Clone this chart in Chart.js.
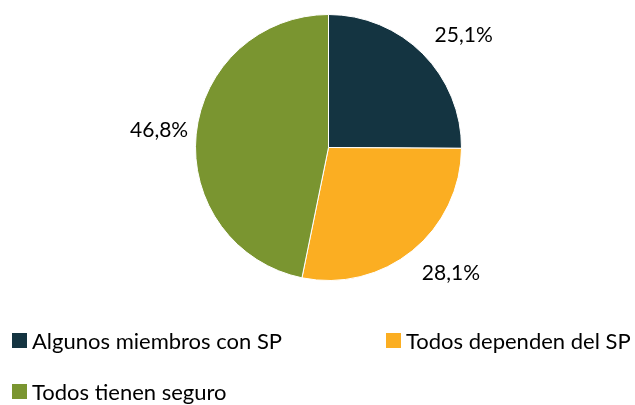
<!DOCTYPE html>
<html>
<head>
<meta charset="utf-8">
<script src="https://cdn.jsdelivr.net/npm/chart.js@4"></script>
<style>
    html, body { margin: 0; padding: 0; background: #fff; }
    #wrap { position: relative; width: 635px; height: 405px; }
    #legend { position: absolute; left: 0; top: 0; width: 635px; height: 405px; pointer-events: none;
              font-family: Lato, "Open Sans", sans-serif; font-size: 22px; color: #000; }
    .item { position: absolute; display: flex; align-items: center; white-space: nowrap; }
    .box { width: 15px; height: 15px; margin-right: 5px; }
</style>
</head>
<body>
<div id="wrap">
    <canvas id="pieChart" width="635" height="405"></canvas>
    <div id="legend"></div>
</div>
<script>
/* DATA */
const categories = ["Algunos miembros con SP", "Todos dependen del SP", "Todos tienen seguro"];
const shares = [25.1, 28.1, 46.8];
const sliceColors = ["#143441", "#FBAE22", "#7A9530"];

/* LEGEND (html, two columns like the original) */
const legendSpots = [
    { left: 12, top: 327 },
    { left: 386, top: 327 },
    { left: 12, top: 378 }
];

function buildLegend() {
    const box = document.getElementById("legend");
    categories.forEach((c, i) => {
        const el = document.createElement("div");
        el.className = "item";
        el.style.left = legendSpots[i].left + "px";
        el.style.top = legendSpots[i].top + "px";
        el.innerHTML = `<span class="box" style="background:${sliceColors[i]}"></span><span>${c}</span>`;
        box.appendChild(el);
    });
}

/* LABELS OUTSIDE THE SLICES */
// small turn per label, excel "best fit" does not sit exactly on the mid angle
const labelTurn = [0.09, -0.09, 0];
const labelDist = [1.32, 1.32, 1.28];

const outsideLabels = {
    id: "outsideLabels",
    afterDatasetsDraw(chart) {
        const ctx = chart.ctx;
        const meta = chart.getDatasetMeta(0);
        ctx.save();
        ctx.font = "21px Lato, 'Open Sans', sans-serif";
        ctx.fillStyle = "#000";
        ctx.textAlign = "center";
        ctx.textBaseline = "middle";
        meta.data.forEach((arc, i) => {
            const mid = (arc.startAngle + arc.endAngle) / 2 + labelTurn[i];
            const r = arc.outerRadius * labelDist[i];
            const x = arc.x + Math.cos(mid) * r;
            const y = arc.y + Math.sin(mid) * r;
            ctx.fillText(shares[i].toFixed(1).replace(".", ",") + "%", x, y);
        });
        ctx.restore();
    }
};

function createPie() {
    new Chart(document.getElementById("pieChart").getContext("2d"), {
        type: "pie",
        data: {
            labels: categories,
            datasets: [{
                data: shares,
                backgroundColor: sliceColors,
                borderColor: "#ffffff",
                borderWidth: 1
            }]
        },
        options: {
            responsive: false,
            animation: false,
            layout: { padding: { top: 14, bottom: 124, left: 22, right: 0 } },
            plugins: {
                legend: { display: false },
                tooltip: { enabled: false }
            }
        },
        plugins: [outsideLabels]
    });
}

document.addEventListener("DOMContentLoaded", () => {
    buildLegend();
    createPie();
});
</script>
</body>
</html>
